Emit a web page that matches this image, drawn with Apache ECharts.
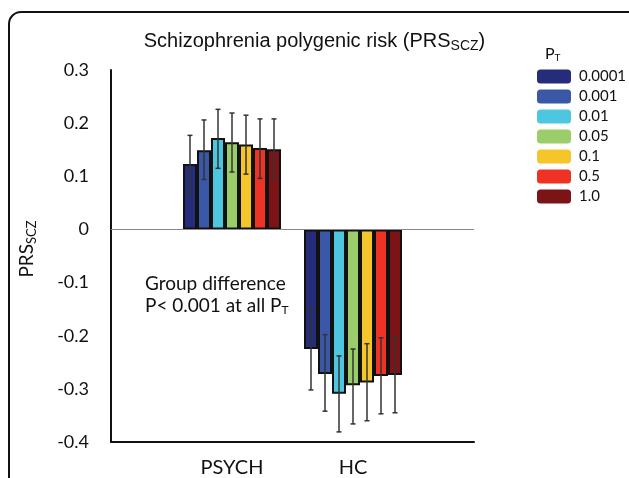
<!DOCTYPE html>
<html>
<head>
<meta charset="utf-8">
<script src="https://cdn.jsdelivr.net/npm/echarts@6/dist/echarts.min.js"></script>
<style>
  html, body { margin: 0; padding: 0; background: #fff; }
  #chart { width: 629px; height: 478px; }
</style>
</head>
<body>
<div id="chart"></div>
<script>
const groups = ['', 'PSYCH', 'HC', ''];
const thresholds = ['0.0001', '0.001', '0.01', '0.05', '0.1', '0.5', '1.0'];
const colors = ['#252d7a', '#3b58a8', '#4fc6e0', '#9ccd6b', '#f5c62c', '#ee3224', '#7c1417'];

const psychMean = [0.123, 0.149, 0.172, 0.164, 0.160, 0.153, 0.151];
const psychLow = [0.068, 0.094, 0.115, 0.108, 0.104, 0.096, 0.096];
const psychHigh = [0.177, 0.206, 0.226, 0.219, 0.215, 0.208, 0.208];

const hcMean = [-0.225, -0.272, -0.309, -0.293, -0.288, -0.276, -0.274];
const hcLow = [-0.302, -0.342, -0.381, -0.366, -0.360, -0.347, -0.345];
const hcHigh = [-0.149, -0.198, -0.238, -0.225, -0.215, -0.204, -0.202];

const yTicks = [-0.4, -0.3, -0.2, -0.1, 0, 0.1, 0.2, 0.3];

const barW = 14;
const tickFont = 'Lato, "Open Sans", sans-serif';

const chart = echarts.init(document.getElementById('chart'), null, { renderer: 'canvas' });

const barSeries = thresholds.map((t, k) => ({
    name: t,
    type: 'bar',
    barWidth: barW,
    barGap: '0%',
    data: [null, psychMean[k], hcMean[k], null],
    itemStyle: { color: colors[k], borderColor: '#111', borderWidth: 2 },
    emphasis: { disabled: true },
    markLine: k === 0 ? {
        silent: true,
        symbol: 'none',
        label: { show: false },
        lineStyle: { color: '#888', width: 1, type: 'solid' },
        data: [{ yAxis: 0 }]
    } : undefined
}));

// error bar rows: [category index, low, high, threshold index]
const errData = [];
thresholds.forEach((t, k) => {
    errData.push([1, psychLow[k], psychHigh[k], k]);
    errData.push([2, hcLow[k], hcHigh[k], k]);
});

const errSeries = {
    type: 'custom',
    z: 10,
    silent: true,
    data: errData,
    renderItem(params, api) {
        const c = api.value(0);
        const k = api.value(3);
        const lo = api.coord([c, api.value(1)]);
        const hi = api.coord([c, api.value(2)]);
        const x = lo[0] + (k - 3) * barW;
        const cap = 2.5;
        const st = { stroke: '#333', lineWidth: 1.5 };
        return {
            type: 'group',
            children: [
                { type: 'line', shape: { x1: x, y1: lo[1], x2: x, y2: hi[1] }, style: st },
                { type: 'line', shape: { x1: x - cap, y1: lo[1], x2: x + cap, y2: lo[1] }, style: st },
                { type: 'line', shape: { x1: x - cap, y1: hi[1], x2: x + cap, y2: hi[1] }, style: st }
            ]
        };
    }
};

chart.setOption({
    animation: false,
    backgroundColor: '#fff',
    title: {
        text: '{a|Schizophrenia polygenic risk (PRS}{s|SCZ}{a|)}',
        left: 'center',
        top: 25,
        textStyle: {
            fontWeight: 'normal',
            rich: {
                a: { fontFamily: '"Liberation Sans", Arial, sans-serif', fontSize: 20, fontWeight: 'normal', color: '#111' },
                s: { fontFamily: '"Liberation Sans", Arial, sans-serif', fontSize: 14, fontWeight: 'normal', color: '#111', padding: [9, 0, 0, 0] }
            }
        }
    },
    legend: {
        orient: 'vertical',
        left: 532,
        top: 64,
        itemWidth: 34,
        itemHeight: 14,
        itemGap: 5,
        selectedMode: false,
        data: thresholds,
        itemStyle: { borderWidth: 0 },
        textStyle: { fontFamily: tickFont, fontSize: 15, color: '#111', padding: [0, 0, 0, 3] }
    },
    grid: { left: 111, top: 70, width: 363, height: 372 },
    xAxis: {
        type: 'category',
        data: groups,
        boundaryGap: false,
        axisLine: { onZero: false, lineStyle: { color: '#111', width: 2 } },
        axisTick: { show: false },
        axisLabel: { fontFamily: tickFont, fontSize: 20, color: '#111', margin: 16, interval: 0 },
        splitLine: { show: false }
    },
    yAxis: {
        type: 'value',
        min: yTicks[0],
        max: yTicks[yTicks.length - 1],
        interval: 0.1,
        axisLine: { show: true, lineStyle: { color: '#111', width: 2 } },
        axisTick: { show: false },
        splitLine: { show: false },
        axisLabel: {
            fontFamily: tickFont,
            fontSize: 18,
            color: '#111',
            margin: 22,
            formatter: v => (Math.abs(v) < 1e-9 ? '0' : v.toFixed(1))
        }
    },
    graphic: [
        {
            type: 'rect',
            silent: true,
            shape: { x: 9, y: 12, width: 700, height: 600, r: 12 },
            style: { fill: 'none', stroke: '#111', lineWidth: 2 }
        },
        {
            type: 'text',
            x: 27,
            y: 249,
            rotation: Math.PI / 2,
            style: {
                text: '{a|PRS}{s|SCZ}',
                align: 'center',
                verticalAlign: 'middle',
                rich: {
                    a: { fontFamily: tickFont, fontSize: 19, fill: '#111' },
                    s: { fontFamily: tickFont, fontSize: 13, fill: '#111', padding: [9, 0, 0, 0] }
                }
            }
        },
        {
            type: 'text',
            left: 545,
            top: 46,
            style: {
                text: '{a|P}{s|T}',
                rich: {
                    a: { fontFamily: tickFont, fontSize: 16, fill: '#111' },
                    s: { fontFamily: tickFont, fontSize: 10, fill: '#111', padding: [7, 0, 0, 0] }
                }
            }
        },
        {
            type: 'text',
            left: 145,
            top: 274,
            style: {
                text: '{a|Group difference}\n{a|P< 0.001 at all P}{s|T}',
                rich: {
                    a: { fontFamily: tickFont, fontSize: 19, fill: '#111', lineHeight: 22 },
                    s: { fontFamily: tickFont, fontSize: 12, fill: '#111', padding: [9, 0, 0, 0] }
                }
            }
        }
    ],
    series: [...barSeries, errSeries]
});
</script>
</body>
</html>
